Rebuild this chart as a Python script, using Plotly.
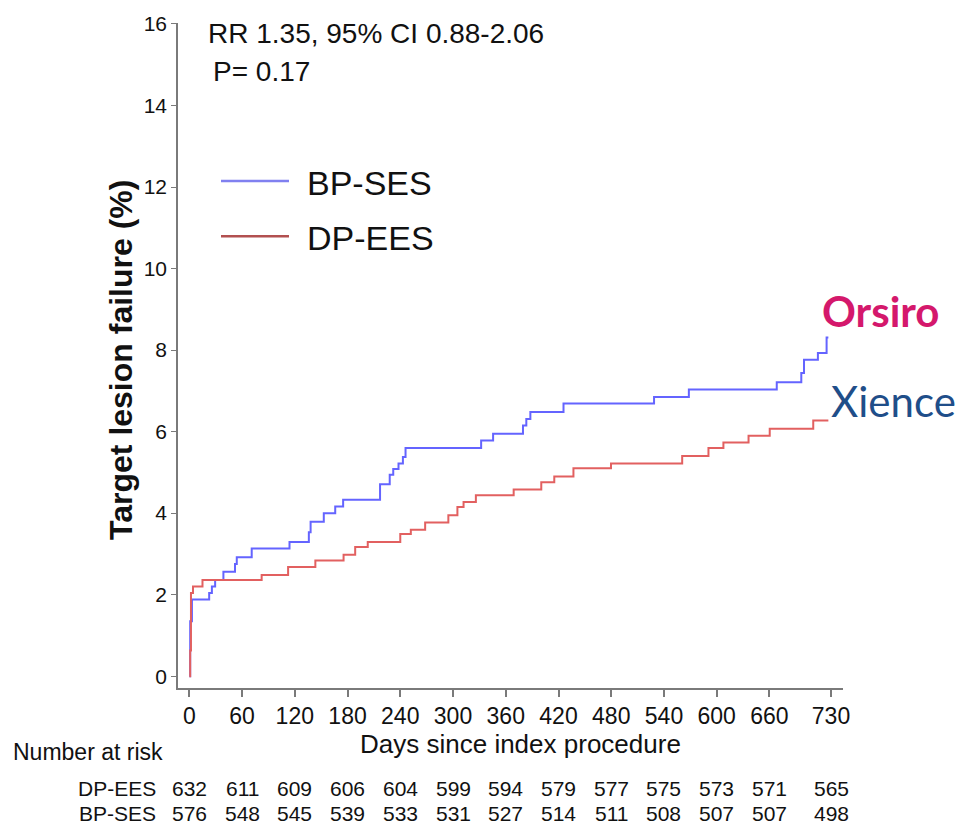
import plotly.graph_objects as go

# ---- data ----
bp_ses_days = [0, 1, 3, 22.6, 25.7, 29.4, 38.8, 52, 54, 71, 114, 136, 138, 153, 166, 175,
               217, 228, 232, 238, 243, 246, 332, 345.6, 379.6, 383.4, 388, 425.7, 528.7,
               568.3, 668.3, 696.2, 699.3, 715.1, 725, 727]
bp_ses_pct = [0, 1.35, 1.88, 2.04, 2.20, 2.36, 2.56, 2.75, 2.92, 3.13, 3.29, 3.53, 3.79, 4.00, 4.16, 4.33,
              4.71, 4.94, 5.08, 5.22, 5.38, 5.60, 5.78, 5.95, 6.15, 6.31, 6.48, 6.69, 6.85,
              7.03, 7.21, 7.44, 7.76, 7.93, 8.31, 8.31]

dp_ees_days = [0, 1, 1.9, 4.2, 15, 82.3, 112.4, 143.4, 175.5, 188.7, 203, 240, 252, 268.3,
               294.7, 305, 312, 326, 369, 400.4, 415.2, 437, 479.7, 560.7, 590.6, 607.6,
               636.2, 660.3, 709.8, 727]
dp_ees_pct = [0, 0.63, 2.04, 2.20, 2.36, 2.48, 2.68, 2.84, 2.98, 3.17, 3.29, 3.49, 3.59, 3.77,
              3.95, 4.15, 4.27, 4.44, 4.58, 4.76, 4.90, 5.10, 5.22, 5.40, 5.60, 5.73,
              5.90, 6.07, 6.27, 6.27]

x_tick_vals = [0, 60, 120, 180, 240, 300, 360, 420, 480, 540, 600, 660, 730]
y_tick_vals = [0, 2, 4, 6, 8, 10, 12, 14, 16]

risk_dp_ees = [632, 611, 609, 606, 604, 599, 594, 579, 577, 575, 573, 571, 565]
risk_bp_ses = [576, 548, 545, 539, 533, 531, 527, 514, 511, 508, 507, 507, 498]

# ---- layout geometry ----
W, H = 959, 825
ML, MR, MT, MB = 178, 116, 13, 137
PW, PH = W - ML - MR, H - MT - MB


def px(xp):
    return (xp - ML) / PW


def py(yp):
    return (H - MB - yp) / PH


BLUE = "rgb(100,100,255)"
RED = "rgb(226,96,96)"
AX = "#7a7a7a"
FONT = "Liberation Sans, Arial, sans-serif"

fig = go.Figure()
fig.add_trace(go.Scatter(x=bp_ses_days, y=bp_ses_pct, mode="lines", name="BP-SES",
                         line=dict(shape="hv", color=BLUE, width=2)))
fig.add_trace(go.Scatter(x=dp_ees_days, y=dp_ees_pct, mode="lines", name="DP-EES",
                         line=dict(shape="hv", color=RED, width=2)))

annotations = []
# y title
annotations.append(dict(text="<b>Target lesion failure (%)</b>", xref="paper", yref="paper",
                        x=px(121), y=py(355), textangle=-90, showarrow=False,
                        xanchor="center", yanchor="middle",
                        font=dict(family=FONT, size=32, color="#111")))
# x title
annotations.append(dict(text="Days since index procedure", xref="paper", yref="paper",
                        x=px(520), y=py(745), showarrow=False, xanchor="center", yanchor="middle",
                        font=dict(family=FONT, size=26, color="#111")))
# stats
annotations.append(dict(text="RR 1.35, 95% CI 0.88-2.06", xref="paper", yref="paper",
                        x=px(206), y=py(24), showarrow=False, xanchor="left", yanchor="middle",
                        font=dict(family=FONT, size=28, color="#111")))
annotations.append(dict(text="P= 0.17", xref="paper", yref="paper",
                        x=px(211), y=py(62), showarrow=False, xanchor="left", yanchor="middle",
                        font=dict(family=FONT, size=28, color="#111")))
# legend texts
annotations.append(dict(text="BP-SES", xref="paper", yref="paper",
                        x=px(305), y=py(175), showarrow=False, xanchor="left", yanchor="middle",
                        font=dict(family=FONT, size=34, color="#111")))
annotations.append(dict(text="DP-EES", xref="paper", yref="paper",
                        x=px(305), y=py(231), showarrow=False, xanchor="left", yanchor="middle",
                        font=dict(family=FONT, size=34, color="#111")))
# device labels
annotations.append(dict(text="<b>Orsiro</b>", xref="paper", yref="paper",
                        x=px(881), y=py(305), showarrow=False, xanchor="center", yanchor="middle",
                        font=dict(family="Lato, Open Sans, sans-serif", size=42, color="#D4186C")))
annotations.append(dict(text="Xience", xref="paper", yref="paper",
                        x=px(893), y=py(397), showarrow=False, xanchor="center", yanchor="middle",
                        font=dict(family="Lato, Open Sans, sans-serif", size=42, color="#1F4E89")))
# number at risk
annotations.append(dict(text="Number at risk", xref="paper", yref="paper",
                        x=px(11), y=py(753), showarrow=False, xanchor="left", yanchor="middle",
                        font=dict(family=FONT, size=23, color="#111")))
annotations.append(dict(text="DP-EES", xref="paper", yref="paper",
                        x=px(158), y=py(790), showarrow=False, xanchor="right", yanchor="middle",
                        font=dict(family=FONT, size=21, color="#111")))
annotations.append(dict(text="BP-SES", xref="paper", yref="paper",
                        x=px(158), y=py(815), showarrow=False, xanchor="right", yanchor="middle",
                        font=dict(family=FONT, size=21, color="#111")))
for d, v in zip(x_tick_vals, risk_dp_ees):
    annotations.append(dict(text=str(v), xref="x", yref="paper", x=d, y=py(790),
                            showarrow=False, xanchor="center", yanchor="middle",
                            font=dict(family=FONT, size=21, color="#111")))
for d, v in zip(x_tick_vals, risk_bp_ses):
    annotations.append(dict(text=str(v), xref="x", yref="paper", x=d, y=py(815),
                            showarrow=False, xanchor="center", yanchor="middle",
                            font=dict(family=FONT, size=21, color="#111")))

shapes = [
    dict(type="line", xref="paper", yref="paper", x0=px(221), x1=px(289), y0=py(173.5), y1=py(173.5),
         line=dict(color="rgb(128,128,240)", width=2.5)),
    dict(type="line", xref="paper", yref="paper", x0=px(221), x1=px(289), y0=py(229.5), y1=py(229.5),
         line=dict(color="rgb(178,80,80)", width=2.5)),
]

x0_px, x730_px = 189.3, 831.0
scale = (x730_px - x0_px) / 730.0
xr = [(ML - x0_px) / scale, (ML + PW - x0_px) / scale]
y0_px, y16_px = 676.0, 14.0
yscale = (y0_px - y16_px) / 16.0
yr = [(y0_px - (MT + PH)) / yscale, (y0_px - MT) / yscale]

fig.update_layout(
    width=W, height=H, autosize=False,
    margin=dict(l=ML, r=MR, t=MT, b=MB, pad=0),
    paper_bgcolor="white", plot_bgcolor="white",
    showlegend=False,
    annotations=annotations, shapes=shapes,
    xaxis=dict(range=xr, tickvals=x_tick_vals, ticktext=[str(v) for v in x_tick_vals],
               showgrid=False, zeroline=False, showline=True, linecolor=AX, linewidth=1.5,
               ticks="outside", ticklen=7, tickcolor=AX, tickwidth=1.5,
               tickfont=dict(family=FONT, size=23, color="#111")),
    yaxis=dict(range=yr, tickvals=y_tick_vals, showgrid=False, zeroline=False,
               showline=True, linecolor=AX, linewidth=1.5,
               ticks="outside", ticklen=5, tickcolor=AX, tickwidth=1.2,
               tickfont=dict(family=FONT, size=21, color="#111")),
)

fig.write_html("out.html")
